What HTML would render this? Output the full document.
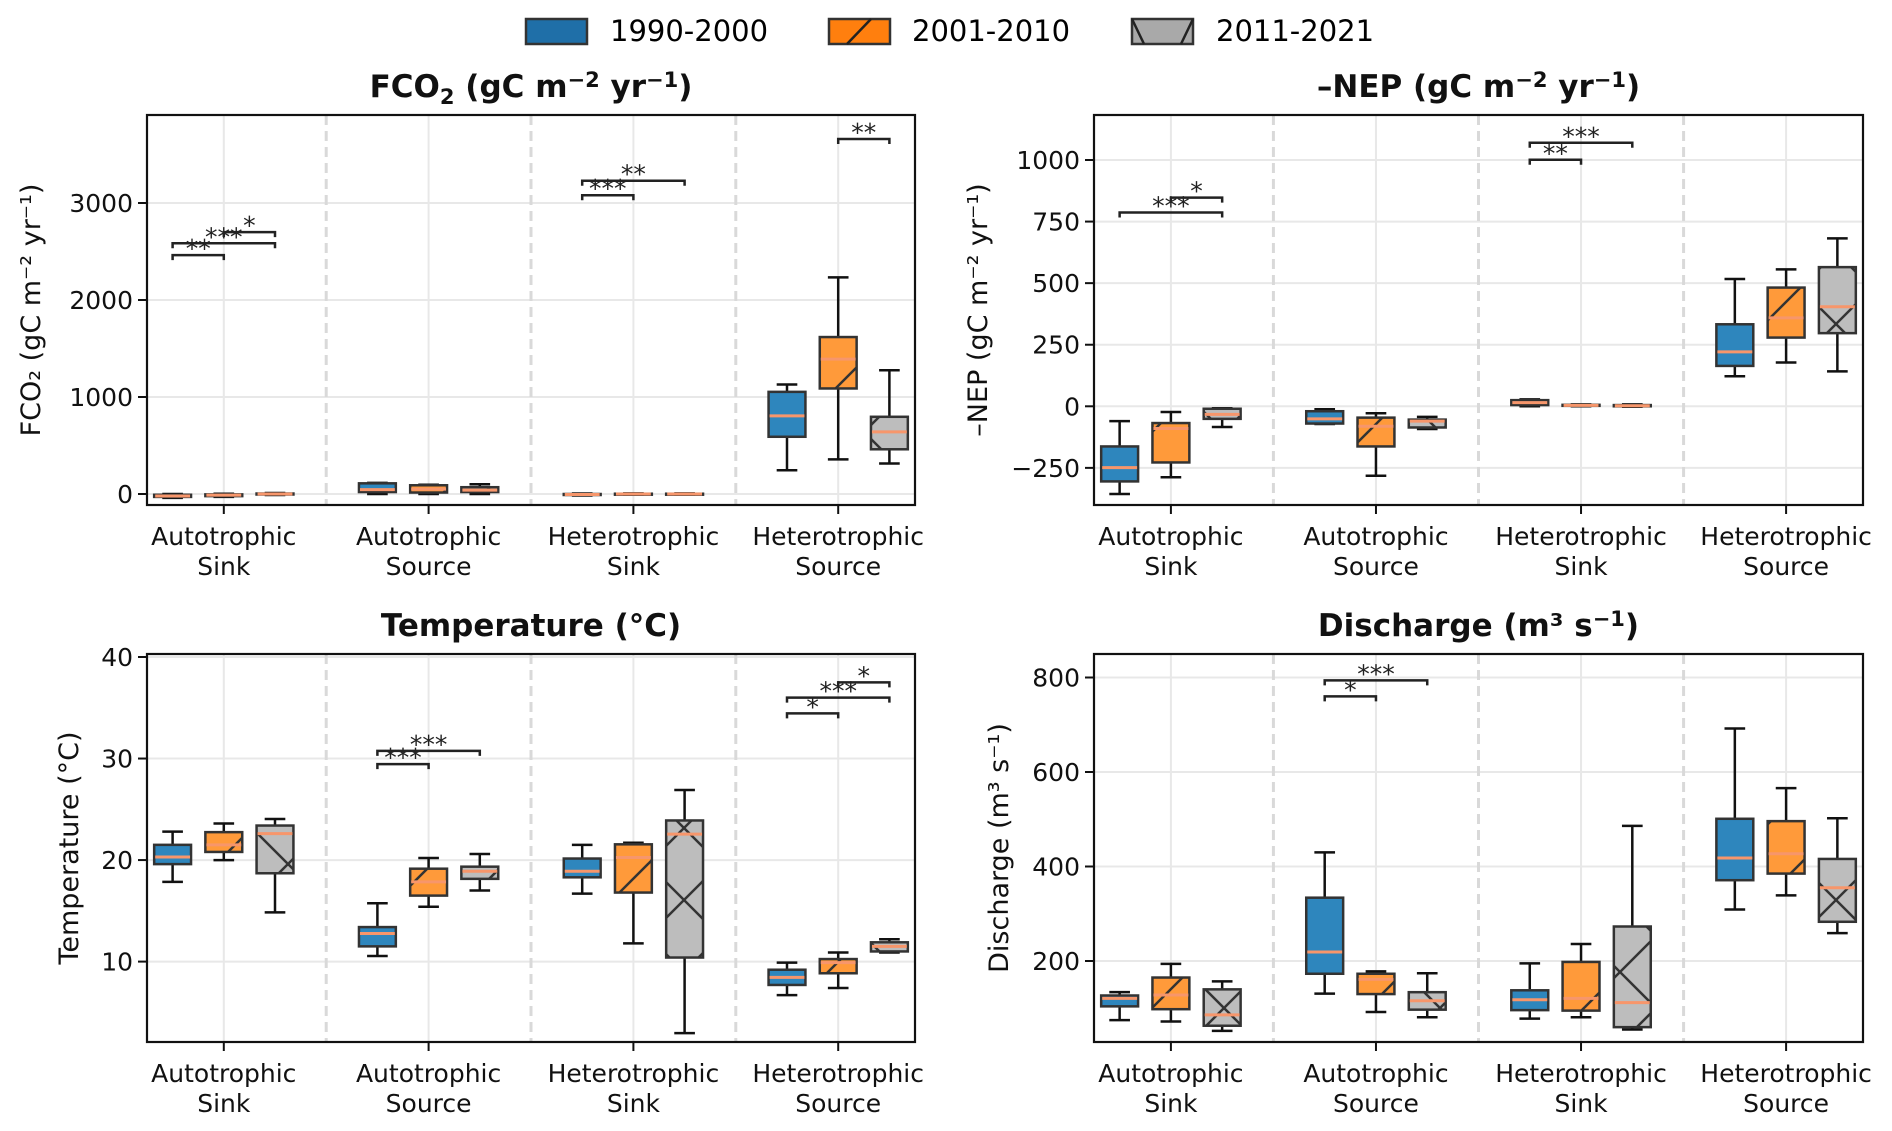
<!DOCTYPE html>
<html><head><meta charset="utf-8"><style>
html,body{margin:0;padding:0;background:#fff;}
svg{display:block;font-family:"DejaVu Sans","Liberation Sans",sans-serif;}
</style></head><body>
<svg id="fig" width="1892" height="1131" viewBox="0 0 1892 1131" xmlns="http://www.w3.org/2000/svg">
<defs>
<pattern id="hatchSlash" patternUnits="userSpaceOnUse" width="72" height="72">
<line x1="0" y1="72" x2="72" y2="0" stroke="#333" stroke-width="2.5"/>
<line x1="-10" y1="10" x2="10" y2="-10" stroke="#333" stroke-width="2.5"/>
<line x1="62" y1="82" x2="82" y2="62" stroke="#333" stroke-width="2.5"/>
</pattern>
<pattern id="hatchX" patternUnits="userSpaceOnUse" width="72" height="72">
<line x1="0" y1="72" x2="72" y2="0" stroke="#333" stroke-width="2.5"/>
<line x1="0" y1="0" x2="72" y2="72" stroke="#333" stroke-width="2.5"/>
</pattern>
</defs>
<g id="legend">
<g>
<rect x="526" y="19" width="61" height="25" fill="#1f6fa8" stroke="#333" stroke-width="2.5"/>
<text x="610" y="41" font-size="29">1990-2000</text></g>
<g>
<rect x="829" y="19" width="61" height="25" fill="#ff7f0e" stroke="#333" stroke-width="2.5"/>
<line x1="847" y1="44" x2="871" y2="19" stroke="#222" stroke-width="2.5"/>
<text x="912" y="41" font-size="29">2001-2010</text></g>
<g>
<rect x="1132" y="19" width="61" height="25" fill="#a9a9a9" stroke="#333" stroke-width="2.5"/>
<line x1="1132" y1="19" x2="1144" y2="44" stroke="#222" stroke-width="2.5"/>
<line x1="1181" y1="44" x2="1193" y2="19" stroke="#222" stroke-width="2.5"/>
<text x="1216" y="41" font-size="29">2011-2021</text></g>
</g>
</svg>
<script>
// ---- shared data ----
const categories = [["Autotrophic","Sink"],["Autotrophic","Source"],["Heterotrophic","Sink"],["Heterotrophic","Source"]];
const periods = ["1990-2000","2001-2010","2011-2021"];

// each box: [whisker low, q1, median, q3, whisker high]; index [category][period]
const fco2Boxes = [
 [[-40,-30,-20,-8,0],[-30,-22,-12,-4,2],[-10,-5,0,5,10]],
 [[0,20,45,110,115],[0,15,50,90,95],[0,20,40,70,100]],
 [[-15,-10,-5,0,5],[-8,-4,0,3,6],[-6,-3,0,3,6]],
 [[245,590,806,1053,1129],[357,1088,1391,1618,2233],[314,461,641,796,1276]]
];
const fco2Ticks = [0,1000,2000,3000];
const fco2Sig = [[0,0,1,2463,"**"],[0,0,2,2585,"***"],[0,1,2,2700,"*"],[2,0,1,3080,"***"],[2,0,2,3230,"**"],[3,1,2,3660,"**"]];

const nepBoxes = [
 [[-356,-305,-249,-163,-60],[-288,-228,-90,-68,-23],[-84,-51,-33,-10,-8]],
 [[-72,-70,-51,-20,-12],[-282,-163,-81,-46,-28],[-92,-86,-60,-54,-43]],
 [[0,5,15,25,28],[0,2,4,6,8],[-2,0,2,5,8]],
 [[122,164,221,333,517],[178,279,359,482,556],[142,297,404,565,682]]
];
const nepTicks = [-250,0,250,500,750,1000];
const nepSig = [[0,0,2,787,"***"],[0,1,2,847,"*"],[2,0,1,1001,"**"],[2,0,2,1070,"***"]];

const tempBoxes = [
 [[17.85,19.6,20.3,21.5,22.8],[20.0,20.8,21.5,22.75,23.6],[14.85,18.7,22.6,23.4,24.05]],
 [[10.55,11.5,12.77,13.4,15.75],[15.4,16.5,17.85,19.15,20.2],[17.0,18.15,18.9,19.35,20.6]],
 [[16.7,18.3,18.9,20.15,21.5],[11.8,16.8,20.25,21.55,21.7],[2.95,10.4,22.55,23.9,26.9]],
 [[6.7,7.7,8.45,9.2,9.9],[7.4,8.85,9.9,10.25,10.9],[10.9,11.0,11.5,11.9,12.2]]
];
const tempTicks = [10,20,30,40];
const tempSig = [[1,0,1,29.45,"***"],[1,0,2,30.75,"***"],[3,0,1,34.45,"*"],[3,0,2,36.0,"***"],[3,1,2,37.5,"*"]];

const dischBoxes = [
 [[75,104,121,127,134],[72,98,128,165,194],[52,63,86,140,157]],
 [[131,173,219,334,430],[92,130,161,173,178],[81,97,116,134,174]],
 [[78,96,118,138,195],[81,95,121,198,236],[55,60,112,273,486]],
 [[309,371,418,501,692],[339,385,427,496,566],[259,283,355,416,502]]
];
const dischTicks = [200,400,600,800];
const dischSig = [[1,0,1,760,"*"],[1,0,2,794,"***"]];

const NS = "http://www.w3.org/2000/svg";
const svg = document.getElementById("fig");
function mk(tag, attrs, parent){
  const e = document.createElementNS(NS, tag);
  for (const k in attrs) e.setAttribute(k, attrs[k]);
  (parent||svg).appendChild(e);
  return e;
}
const fills = ["#2e86bd","#ff9a3a","#bdbdbd"];
const hatches = [null,"url(#hatchSlash)","url(#hatchX)"];

function panel(cfg){
  const g = mk("g",{});
  
  
  const L=cfg.L, R=cfg.R, T=cfg.T, B=cfg.B;
  const yScale = v => cfg.y0px + (v - cfg.y0) * (cfg.y1px - cfg.y0px) / (cfg.y1 - cfg.y0);
  const bandW = (R - L) / 3.75;
  const xScale = c => L + (c + 0.375) * bandW;
  const off = 0.25 * bandW, bw = 0.18 * bandW;
  cfg.ticks.forEach(t=>{
    const y = yScale(t);
    const gl = mk("line",{x1:L,x2:R,y1:y,y2:y,stroke:"#e8e8e8","stroke-width":2},g);
    
    
  });
  categories.forEach((c,i)=>{
    const x = xScale(i);
    const gl = mk("line",{x1:x,x2:x,y1:T,y2:B,stroke:"#e8e8e8","stroke-width":2},g);
    
    
  });
  for (let i=0;i<3;i++){
    const x = xScale(i+0.5);
    const d = mk("line",{x1:x,x2:x,y1:T,y2:B,stroke:"#d9d9d9","stroke-width":3,"stroke-dasharray":"10,6"},g);
    
    
  }
  cfg.boxes.forEach((cat,ci)=>{
    cat.forEach((b,pi)=>{
      const cx = xScale(ci) + (pi-1)*off;
      const bg = mk("g",{},g);
      
      
      const [lo,q1,md,q3,hi] = b.map(yScale);
      mk("line",{x1:cx,x2:cx,y1:lo,y2:q1,stroke:"#111","stroke-width":2.5},bg);
      mk("line",{x1:cx,x2:cx,y1:q3,y2:hi,stroke:"#111","stroke-width":2.5},bg);
      mk("line",{x1:cx-bw*0.28,x2:cx+bw*0.28,y1:lo,y2:lo,stroke:"#111","stroke-width":2.5},bg);
      mk("line",{x1:cx-bw*0.28,x2:cx+bw*0.28,y1:hi,y2:hi,stroke:"#111","stroke-width":2.5},bg);
      const top=Math.min(q1,q3), h=Math.max(Math.abs(q1-q3),1);
      mk("rect",{x:cx-bw/2,y:top,width:bw,height:h,fill:fills[pi]},bg);
      if (hatches[pi]) mk("rect",{x:cx-bw/2,y:top,width:bw,height:h,fill:hatches[pi]},bg);
      mk("rect",{x:cx-bw/2,y:top,width:bw,height:h,fill:"none",stroke:"#333","stroke-width":2.5},bg);
      mk("line",{x1:cx-bw/2+1,x2:cx+bw/2-1,y1:md,y2:md,stroke:"#f7966b","stroke-width":3},bg);
    });
  });
  cfg.sig.forEach(s=>{
    const [ci,a,b,v,lab] = s;
    const x1 = xScale(ci)+(a-1)*off, x2 = xScale(ci)+(b-1)*off, y = yScale(v);
    const sg = mk("g",{},g);
    
    
    mk("path",{d:`M${x1},${y+5}V${y}H${x2}V${y+5}`,fill:"none",stroke:"#222","stroke-width":2.5},sg);
    const t = mk("text",{x:(x1+x2)/2,y:y+2,"font-size":25,"text-anchor":"middle",fill:"#222"},sg);
    t.textContent = lab;
  });
  const fr = mk("rect",{x:L,y:T,width:R-L,height:B-T,fill:"none",stroke:"#111","stroke-width":2.2},g);
  
  
  cfg.ticks.forEach(t=>{
    const y = yScale(t);
    mk("line",{x1:L-9,x2:L,y1:y,y2:y,stroke:"#111","stroke-width":2},g);
    const tl = mk("text",{x:L-14,y:y+9,"font-size":25,"text-anchor":"end",fill:"#111"},g);
    
    
    tl.textContent = t.toString().replace("-","\u2212");
  });
  categories.forEach((c,i)=>{
    const x = xScale(i);
    mk("line",{x1:x,x2:x,y1:B,y2:B+9,stroke:"#111","stroke-width":2},g);
    const tl = mk("text",{x:x,y:B+40,"font-size":25,"text-anchor":"middle",fill:"#111"},g);
    
    
    const a = mk("tspan",{x:x},tl); a.textContent=c[0];
    const b2 = mk("tspan",{x:x,dy:30},tl); b2.textContent=c[1];
  });
  const ti = mk("text",{x:(L+R)/2,y:T-18,"font-size":31,"font-weight":"bold","text-anchor":"middle",fill:"#111"},g);
  
  
  ti.innerHTML = cfg.title;
  const yl = mk("text",{x:0,y:0,"font-size":27,"text-anchor":"middle",fill:"#111",transform:`translate(${cfg.ylx},${(T+B)/2}) rotate(-90)`},g);
  
  
  yl.textContent = cfg.ylabel;
}

panel({name:"fco2-panel",short:"fco2",L:147,R:915,T:115,B:505,y0:0,y0px:494,y1:3000,y1px:203,
  ticks:fco2Ticks,boxes:fco2Boxes,sig:fco2Sig,ylx:40,
  title:'FCO<tspan font-size="21" dy="7">2</tspan><tspan dy="-7"> (gC m</tspan><tspan font-size="21" dy="-10">\u22122</tspan><tspan dy="10"> yr</tspan><tspan font-size="21" dy="-10">\u22121</tspan><tspan dy="10">)</tspan>',
  ylabel:"FCO\u2082 (gC m\u207b\u00b2 yr\u207b\u00b9)"});
panel({name:"nep-panel",short:"nep",L:1094,R:1863,T:115,B:505,y0:0,y0px:406.3,y1:1000,y1px:160,
  ticks:nepTicks,boxes:nepBoxes,sig:nepSig,ylx:987,
  title:'\u2013NEP (gC m<tspan font-size="21" dy="-10">\u22122</tspan><tspan dy="10"> yr</tspan><tspan font-size="21" dy="-10">\u22121</tspan><tspan dy="10">)</tspan>',
  ylabel:"\u2013NEP (gC m\u207b\u00b2 yr\u207b\u00b9)"});
panel({name:"temperature-panel",short:"temp",L:147,R:915,T:654,B:1042,y0:10,y0px:961.6,y1:40,y1px:657,
  ticks:tempTicks,boxes:tempBoxes,sig:tempSig,ylx:78,
  title:'Temperature (\u00b0C)',ylabel:"Temperature (\u00b0C)"});
panel({name:"discharge-panel",short:"disch",L:1094,R:1863,T:654,B:1042,y0:200,y0px:961,y1:800,y1px:677.5,
  ticks:dischTicks,boxes:dischBoxes,sig:dischSig,ylx:1008,
  title:'Discharge (m\u00b3 s<tspan font-size="21" dy="-10">\u22121</tspan><tspan dy="10">)</tspan>',
  ylabel:"Discharge (m\u00b3 s\u207b\u00b9)"});
</script>
</body></html>
